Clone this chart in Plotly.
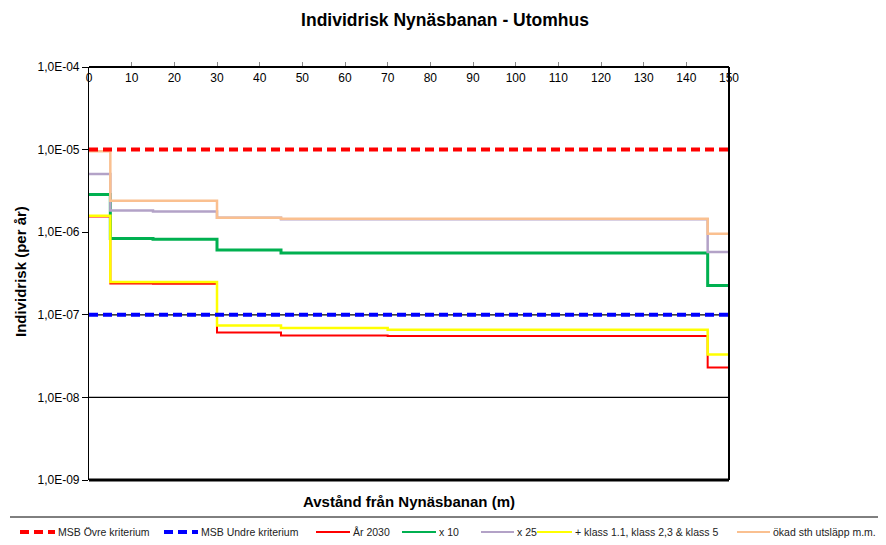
import plotly.graph_objects as go

# distance from the railway (m) where the risk level changes
distance = [0, 5, 15, 30, 45, 70, 145, 150]

# individual risk per year, value holds from each distance to the next
risk_2030 = [1.55e-6, 2.4e-7, 2.38e-7, 6.1e-8, 5.6e-8, 5.55e-8, 2.3e-8, 2.3e-8]
risk_x10 = [2.86e-6, 8.4e-7, 8.2e-7, 6.1e-7, 5.6e-7, 5.6e-7, 2.27e-7, 2.27e-7]
risk_x25 = [5.05e-6, 1.83e-6, 1.78e-6, 1.5e-6, 1.43e-6, 1.43e-6, 5.74e-7, 5.74e-7]
risk_klass = [1.58e-6, 2.5e-7, 2.5e-7, 7.4e-8, 6.9e-8, 6.6e-8, 3.3e-8, 3.3e-8]
risk_sth = [9.55e-6, 2.41e-6, 2.41e-6, 1.5e-6, 1.45e-6, 1.45e-6, 9.57e-7, 9.57e-7]

criteria_x = [0, 150]
upper_criterion = 1e-5
lower_criterion = 1e-7
ref_lines = [1e-7, 1e-8]

x_ticks = list(range(0, 151, 10))
y_ticks = [1e-9, 1e-8, 1e-7, 1e-6, 1e-5, 1e-4]
y_ticktext = ['1,0E-09', '1,0E-08', '1,0E-07', '1,0E-06', '1,0E-05', '1,0E-04']

FONT = 'Liberation Sans, Arial, sans-serif'
DASH = '9px,5px'

# the page body adds an 8px margin, so the figure is drawn 8px smaller
OFF = 8
W, H = 886 - OFF, 545 - OFF
# plot area in page pixels
L, R, T, B = 89, 729, 67, 480


def fx(p):
    return (p - L) / (R - L)


def fy(p):
    return (B - p) / (B - T)


fig = go.Figure()

steps = [
    ('År 2030', risk_2030, '#FF0000', 2),
    ('x 10', risk_x10, '#00B050', 3),
    ('x 25', risk_x25, '#B3A2C7', 2.5),
    ('+ klass 1.1, klass 2,3 & klass 5', risk_klass, '#FFFF00', 2.5),
    ('ökad sth utsläpp m.m.', risk_sth, '#FAC090', 2.5),
]

for name, values, color, width in steps:
    fig.add_trace(go.Scatter(
        x=distance, y=values, name=name, mode='lines',
        line=dict(color=color, width=width, shape='hv'), showlegend=False,
    ))

fig.add_trace(go.Scatter(
    x=criteria_x, y=[upper_criterion] * 2, name='MSB Övre kriterium', mode='lines',
    line=dict(color='#FF0000', width=4, dash=DASH), showlegend=False,
))
fig.add_trace(go.Scatter(
    x=criteria_x, y=[lower_criterion] * 2, name='MSB Undre kriterium', mode='lines',
    line=dict(color='#0000FF', width=4, dash=DASH), showlegend=False,
))

for level in ref_lines:
    fig.add_shape(type='line', xref='x domain', yref='y', x0=0, x1=1, y0=level, y1=level,
                  line=dict(color='black', width=1.2), layer='below')

# heavier bottom and right frame as in the original
fig.add_shape(type='line', xref='x domain', yref='y domain', x0=0, x1=1, y0=0, y1=0,
              line=dict(color='black', width=3))
fig.add_shape(type='line', xref='x domain', yref='y domain', x0=1, x1=1, y0=0, y1=1,
              line=dict(color='black', width=2))
# legend separator
fig.add_shape(type='line', xref='paper', yref='paper', x0=fx(10), x1=fx(886), y0=fy(517), y1=fy(517),
              line=dict(color='black', width=1))

# legend drawn by hand so it stays on one row like the original
legend_items = [
    ('MSB Övre kriterium', '#FF0000', 4, DASH, 20, 55),
    ('MSB Undre kriterium', '#0000FF', 4, DASH, 164, 198),
    ('År 2030', '#FF0000', 2, 'solid', 316, 350),
    ('x 10', '#00B050', 2, 'solid', 402, 436),
    ('x 25', '#B3A2C7', 2, 'solid', 481, 514),
    ('+ klass 1.1, klass 2,3 & klass 5', '#FFFF00', 2, 'solid', 537, 572),
    ('ökad sth utsläpp m.m.', '#FAC090', 2, 'solid', 737, 770),
]
for label, color, width, dash, k0, k1 in legend_items:
    fig.add_shape(type='line', xref='paper', yref='paper', x0=fx(k0), x1=fx(k1), y0=fy(532), y1=fy(532),
                  line=dict(color=color, width=width, dash=dash))
    fig.add_annotation(text=label, xref='paper', yref='paper', x=fx(k1 + 1), y=fy(532),
                       xanchor='left', yanchor='middle', showarrow=False,
                       font=dict(family=FONT, size=10.5, color='#222'))

fig.update_xaxes(
    range=[0, 150], side='bottom', anchor='free', position=1, tickvals=x_ticks,
    ticks='inside', ticklen=4, tickcolor='#888', showgrid=False, zeroline=False,
    showline=True, linecolor='black', linewidth=1.5, automargin=False,
    tickfont=dict(family=FONT, size=12, color='black'),
)
fig.update_yaxes(
    type='log', range=[-9, -4], tickvals=y_ticks, ticktext=y_ticktext,
    ticks='outside', ticklen=6, tickcolor='black', showgrid=False, zeroline=False,
    showline=True, linecolor='black', linewidth=1.2, automargin=False,
    tickfont=dict(family=FONT, size=12, color='black'),
)

fig.add_annotation(text='<b>Individrisk (per år)</b>', xref='paper', yref='paper',
                   x=fx(20), y=fy(272), xanchor='center', yanchor='middle',
                   textangle=-90, showarrow=False,
                   font=dict(family=FONT, size=15, color='black'))
fig.add_annotation(text='<b>Avstånd från Nynäsbanan (m)</b>', xref='paper', yref='paper',
                   x=fx(409), y=fy(501), xanchor='center', yanchor='middle', showarrow=False,
                   font=dict(family=FONT, size=15, color='black'))

fig.update_layout(
    width=W, height=H,
    margin=dict(l=L - OFF, r=886 - R, t=T - OFF, b=545 - B, autoexpand=False),
    paper_bgcolor='white', plot_bgcolor='white',
    title=dict(text='<b>Individrisk Nynäsbanan - Utomhus</b>', x=(445 - OFF) / W, xanchor='center',
               y=1 - (20 - OFF) / H, yanchor='middle', font=dict(family=FONT, size=17.5, color='black')),
    showlegend=False,
)

fig.write_html('out.html')
